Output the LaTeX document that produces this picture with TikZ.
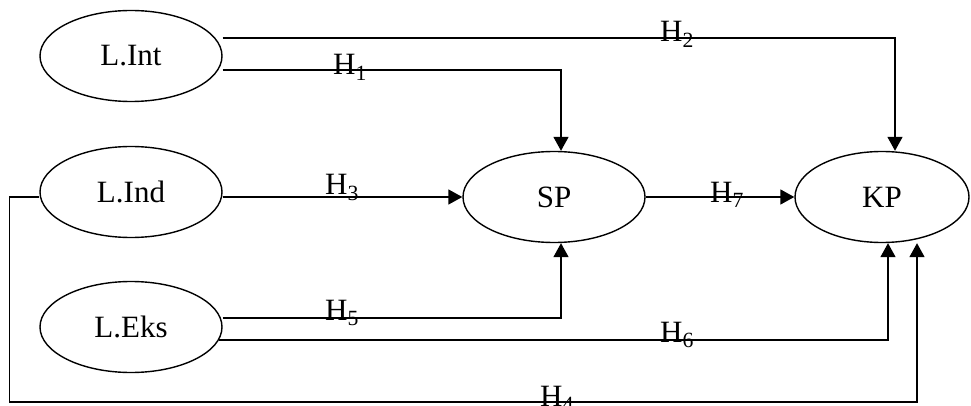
\documentclass[tikz,border=0pt]{standalone}
\usepackage{fontspec}
\setmainfont{Liberation Serif}
\usetikzlibrary{arrows.meta,shapes.geometric}
\newcommand{\hyp}[1]{H\textsubscript{#1}}
\begin{document}
\begin{tikzpicture}[x=1pt,y=-1pt,
  var/.style={draw,line width=1.4pt,ellipse,minimum width=182pt,minimum height=91pt,inner sep=0pt,font=\fontsize{31}{36}\selectfont},
  arr/.style={line width=1.6pt,-{Triangle[length=14pt,width=15pt]}},
  lab/.style={anchor=base west,inner sep=0pt,font=\fontsize{31}{36}\selectfont}]
\useasboundingbox (0,0) rectangle (971,406);
\node[var] (LInt) at (131,56) {L.Int};
\node[var] (LInd) at (131,192) {L.Ind};
\node[var] (LEks) at (131,327) {L.Eks};
\node[var] (SP) at (554,197) {SP};
\node[var,minimum width=174pt] (KP) at (882,197) {KP};
% connectors
\draw[arr] ([yshift=18pt]LInt.east) -| ([xshift=13pt]KP.north);
\draw[arr] ([yshift=-14pt]LInt.east) -| ([xshift=7pt]SP.north);
\draw[arr] ([yshift=-5pt]LInd.east) -- (SP.west);
\draw[arr] (SP.east) -- (KP.west);
\draw[arr] ([yshift=9pt]LEks.east) -| ([xshift=7pt]SP.south);
\draw[arr] ([yshift=-13pt,xshift=-4pt]LEks.east) -| ([xshift=6pt]KP.south);
\draw[arr] ([yshift=-5pt]LInd.west) -- ++(-30,0) -- ++(0,205) -| ([xshift=35pt]KP.south);
% labels
\node[lab] (h1) at (333,75) {\hyp{1}};
\node[lab] (h2) at (660,42) {\hyp{2}};
\node[lab] (h3) at (325,195) {\hyp{3}};
\node[lab] (h7) at (710,202) {\hyp{7}};
\node[lab] (h5) at (325,320) {\hyp{5}};
\node[lab] (h6) at (660,342) {\hyp{6}};
\node[lab] (h4) at (540,406) {\hyp{4}};
\end{tikzpicture}
\end{document}
